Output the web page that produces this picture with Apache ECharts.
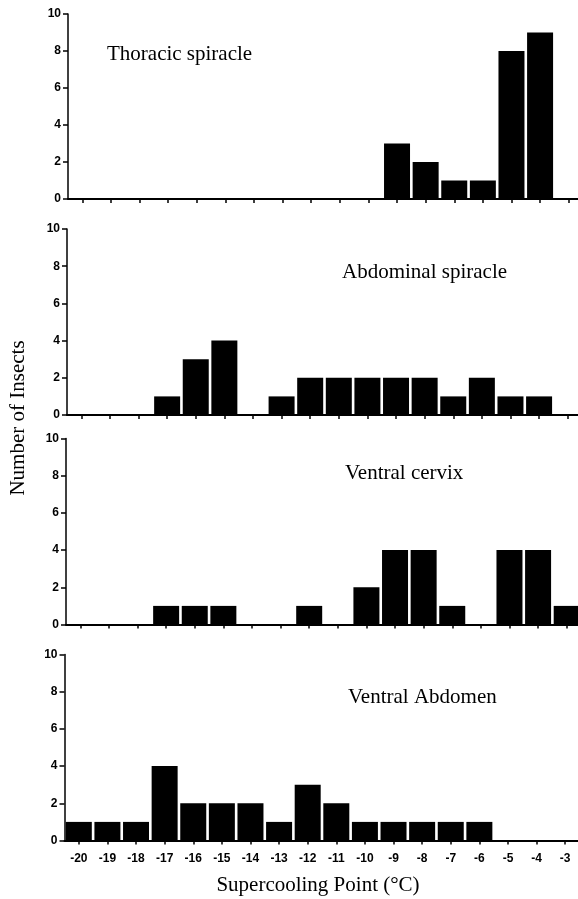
<!DOCTYPE html>
<html>
<head>
<meta charset="utf-8">
<script src="https://cdn.jsdelivr.net/npm/echarts@6/dist/echarts.min.js"></script>
<style>
  html, body { margin: 0; padding: 0; background: #fff; }
  #chart { width: 578px; height: 899px; }
</style>
</head>
<body>
<div id="chart"></div>
<script>
// Data
const categories = ['-20','-19','-18','-17','-16','-15','-14','-13','-12','-11','-10','-9','-8','-7','-6','-5','-4','-3'];
const panelNames = ['Thoracic spiracle', 'Abdominal spiracle', 'Ventral cervix', 'Ventral Abdomen'];
const thoracicSpiracle  = [0,0,0,0,0,0,0,0,0,0,0,3,2,1,1,8,9,0];
const abdominalSpiracle = [0,0,0,1,3,4,0,1,2,2,2,2,2,1,2,1,1,0];
const ventralCervix     = [0,0,0,1,1,1,0,0,1,0,2,4,4,1,0,4,4,1];
const ventralAbdomen    = [1,1,1,4,2,2,2,1,3,2,1,1,1,1,1,0,0,0];
const yTicks = [0, 2, 4, 6, 8, 10];
const yAxisTitle = 'Number of Insects';
const xAxisTitle = 'Supercooling Point (°C)';

const seriesData = [thoracicSpiracle, abdominalSpiracle, ventralCervix, ventralAbdomen];

// Layout
const grids = [
  { left: 68,   top: 14,    width: 515, height: 185 },
  { left: 67,   top: 229,   width: 515, height: 186 },
  { left: 66,   top: 438.5, width: 515, height: 186 },
  { left: 64.5, top: 654.5, width: 515, height: 186 }
];
const labelPos = [
  { x: 107, y: 54 },
  { x: 342, y: 272 },
  { x: 345, y: 473.5 },
  { x: 348, y: 697 }
];

const serif = '"Liberation Serif", "DejaVu Serif", serif';
const sans = '"Liberation Sans", Arial, sans-serif';

const chart = echarts.init(document.getElementById('chart'), null, { renderer: 'canvas' });

const option = {
  backgroundColor: '#ffffff',
  animation: false,
  grid: grids.map(g => Object.assign({ containLabel: false, outerBoundsMode: 'none' }, g)),
  xAxis: grids.map((g, i) => ({
    type: 'category',
    gridIndex: i,
    data: categories,
    boundaryGap: true,
    axisLine: { show: true, onZero: false, lineStyle: { color: '#000', width: 2 } },
    axisTick: { show: true, alignWithLabel: true, length: 4, lineStyle: { color: '#000', width: 1.5 } },
    axisLabel: {
      show: i === 3,
      color: '#000',
      fontFamily: sans,
      fontWeight: 'bold',
      fontSize: 12,
      margin: 12,
      interval: 0
    },
    splitLine: { show: false }
  })),
  yAxis: grids.map((g, i) => ({
    type: 'value',
    gridIndex: i,
    min: 0,
    max: 10,
    interval: 2,
    axisLine: { show: true, lineStyle: { color: '#000', width: 1.5 } },
    axisTick: { show: true, length: 5, lineStyle: { color: '#000', width: 1.5 } },
    axisLabel: {
      color: '#000',
      fontFamily: sans,
      fontWeight: 'bold',
      fontSize: 12,
      margin: 7,
      customValues: yTicks
    },
    splitLine: { show: false }
  })),
  series: seriesData.map((d, i) => ({
    type: 'bar',
    xAxisIndex: i,
    yAxisIndex: i,
    data: d,
    barWidth: 26,
    itemStyle: { color: '#000' },
    silent: true
  })),
  graphic: panelNames.map((name, i) => ({
    type: 'text',
    x: labelPos[i].x,
    y: labelPos[i].y,
    style: {
      text: name,
      fill: '#000',
      font: '21px ' + serif,
      textAlign: 'left',
      textVerticalAlign: 'middle'
    }
  })).concat([
    {
      type: 'text',
      x: 18,
      y: 418,
      rotation: Math.PI / 2,
      style: {
        text: yAxisTitle,
        fill: '#000',
        font: '21px ' + serif,
        textAlign: 'center',
        textVerticalAlign: 'middle'
      }
    },
    {
      type: 'text',
      x: 318,
      y: 885,
      style: {
        text: xAxisTitle,
        fill: '#000',
        font: '21px ' + serif,
        textAlign: 'center',
        textVerticalAlign: 'middle'
      }
    }
  ])
};

chart.setOption(option);
</script>
</body>
</html>
